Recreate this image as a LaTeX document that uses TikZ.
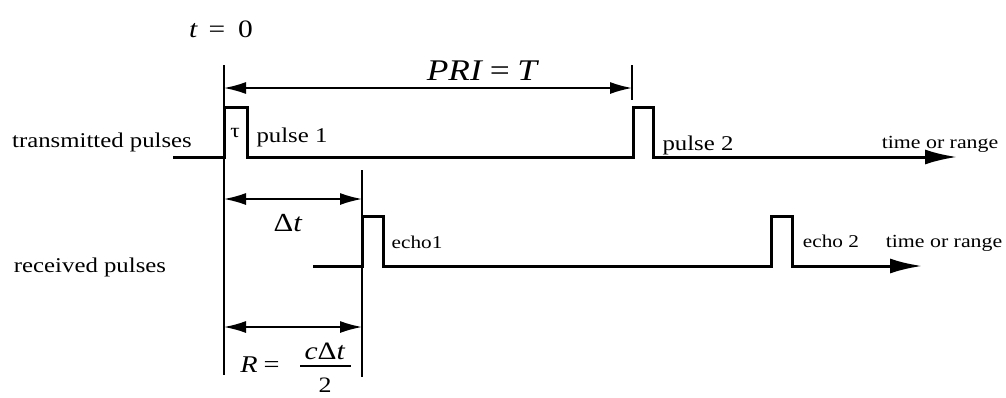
\documentclass[tikz,border=0pt]{standalone}
\usepackage{fontspec}
\usepackage{graphicx}
\setmainfont{Liberation Serif}
\usetikzlibrary{arrows.meta}
\newcommand\tx[2]{\fontsize{#1}{#1}\selectfont\scalebox{1.18}[1]{#2}}
\begin{document}
\begin{tikzpicture}[x=1pt,y=-1pt,
  sig/.style={line width=3pt,line join=miter,line cap=butt},
  sigarrow/.style={sig,-{Latex[length=32pt,width=15pt]}},
  guide/.style={line width=1.8pt},
  dimarrow/.style={line width=1.6pt,{Latex[length=22pt,width=12pt]}-{Latex[length=22pt,width=12pt]}},
  lbl/.style={inner sep=0pt,anchor=base}]
\useasboundingbox (0,0) rectangle (1006,397);
% named points
\coordinate (tzTop) at (224,65);
\coordinate (tzBot) at (224,375);
\coordinate (echoTop) at (362,170);
\coordinate (echoBot) at (362,377);
\coordinate (priTop) at (632,65);
\coordinate (priBot) at (632,100);
\coordinate (priL) at (224,88);
\coordinate (priR) at (632,88);
\coordinate (dtL) at (224,199);
\coordinate (dtR) at (362,199);
\coordinate (rL) at (224,327);
\coordinate (rR) at (362,327);
\coordinate (txStart) at (173,157);
\coordinate (txEnd) at (957,157);
\coordinate (rxStart) at (313,266);
\coordinate (rxEnd) at (922,266);
\coordinate (barL) at (300,366);
\coordinate (barR) at (351,366);
% signals
\draw[sigarrow] (txStart) -- (224,157) -- (224,107) -- (247,107) -- (247,157)
  -- (633,157) -- (633,107) -- (653,107) -- (653,157) -- (txEnd);
\draw[sigarrow] (rxStart) -- (362,266) -- (362,216) -- (383,216) -- (383,266)
  -- (771,266) -- (771,216) -- (792,216) -- (792,266) -- (rxEnd);
% guide lines
\draw[guide] (tzTop) -- (tzBot);
\draw[guide] (echoTop) -- (echoBot);
\draw[guide] (priTop) -- (priBot);
% dimension arrows
\draw[dimarrow] (priL) -- (priR);
\draw[dimarrow] (dtL) -- (dtR);
\draw[dimarrow] (rL) -- (rR);
% labels
\node[lbl] (tzero) at (221,37) {\tx{25}{\textit{t}\hspace{9pt}=\hspace{11pt}0}};
\node[lbl] (pri) at (483,80) {\tx{30}{\textit{PRI\,=\,T}}};
\node[lbl] (trans) at (102,147) {\tx{21}{transmitted pulses}};
\node[lbl] (tau) at (235,137) {\tx{20}{τ}};
\node[lbl] (p1) at (292,142) {\tx{21}{pulse 1}};
\node[lbl] (p2) at (698,150) {\tx{21}{pulse 2}};
\node[lbl] (time1) at (940,148) {\tx{18.5}{time or range}};
\node[lbl] (recv) at (90,272) {\tx{21}{received pulses}};
\node[lbl] (e1) at (417,248) {\tx{18}{echo1}};
\node[lbl] (e2) at (831,247) {\tx{18}{echo 2}};
\node[lbl] (time2) at (944,247) {\tx{18.5}{time or range}};
\node[lbl] (dt) at (288,231) {\tx{26}{Δ\textit{t}}};
\node[lbl] (req) at (260,372) {\tx{24}{\textit{R}\hspace{5pt}=}};
\node[lbl] (num) at (325,359) {\tx{25}{\textit{c}Δ\textit{t}}};
\draw[line width=1.2pt] (barL) -- (barR);
\node[lbl] (den) at (325,392) {\tx{22}{2}};
\end{tikzpicture}
\end{document}
